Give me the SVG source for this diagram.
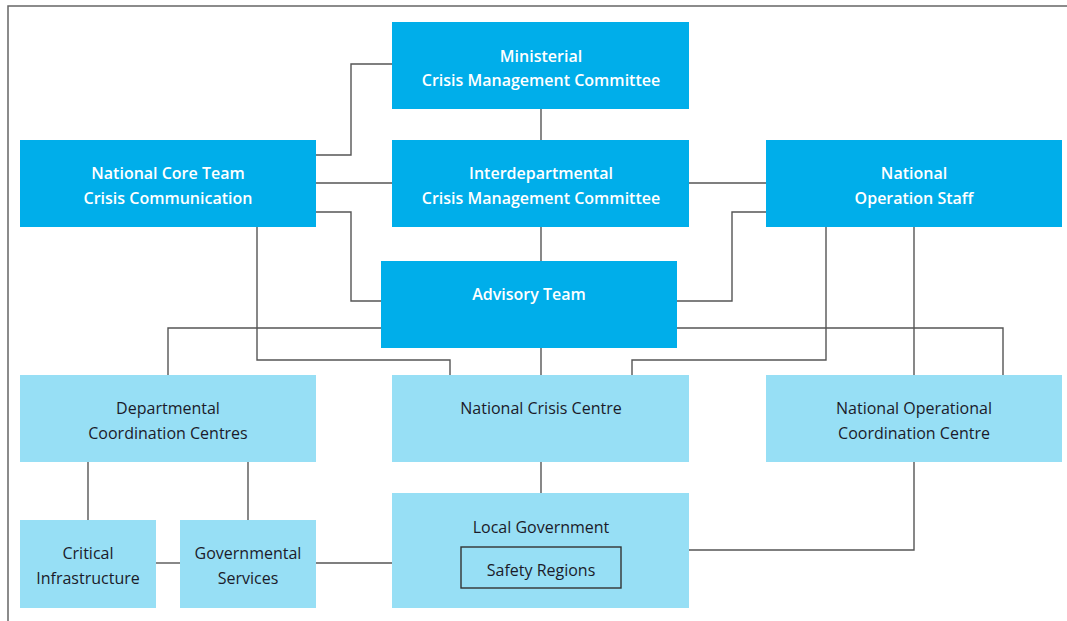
<svg xmlns="http://www.w3.org/2000/svg" width="1067" height="621" viewBox="0 0 1067 621">
<style>
.dark{fill:#00AEEA}
.light{fill:#97DFF5}
.tw{font-family:"Open Sans","Noto Sans",sans-serif;font-size:16px;font-weight:600;fill:#ffffff;text-anchor:middle}
.tb{font-family:"Open Sans","Noto Sans",sans-serif;font-size:16px;fill:#1b1b2a;text-anchor:middle}
.ln{fill:none;stroke:#555555;stroke-width:1.4}
</style>
<rect x="0" y="0" width="1067" height="621" fill="#ffffff"/>
<path d="M8,621 V6 H1067" fill="none" stroke="#666666" stroke-width="1.5"/>
<g id="connectors" class="ln">
<path d="M392,64 H351 V155 H316"/>
<path d="M316,183 H392"/>
<path d="M689,183 H766"/>
<path d="M316,212 H351 V301 H381"/>
<path d="M541,109 V140"/>
<path d="M541,227 V261"/>
<path d="M541,348 V375"/>
<path d="M541,462 V493"/>
<path d="M257,227 V360 H450 V375"/>
<path d="M381,328 H168 V375"/>
<path d="M677,301 H732 V212 H766"/>
<path d="M677,328 H1003 V375"/>
<path d="M826,227 V360 H632 V375"/>
<path d="M914,227 V375"/>
<path d="M914,462 V550 H689"/>
<path d="M88,462 V520"/>
<path d="M248,462 V520"/>
<path d="M156,563 H180"/>
<path d="M316,563 H392"/>
</g>
<g id="ministerial">
<rect class="dark" x="392" y="22" width="297" height="87"/>
<text class="tw" x="541" y="62">Ministerial</text>
<text class="tw" x="541" y="86">Crisis Management Committee</text>
</g>
<g id="core-team">
<rect class="dark" x="20" y="140" width="296" height="87"/>
<text class="tw" x="168" y="179">National Core Team</text>
<text class="tw" x="168" y="204">Crisis Communication</text>
</g>
<g id="interdepartmental">
<rect class="dark" x="392" y="140" width="297" height="87"/>
<text class="tw" x="541" y="179">Interdepartmental</text>
<text class="tw" x="541" y="204">Crisis Management Committee</text>
</g>
<g id="operation-staff">
<rect class="dark" x="766" y="140" width="296" height="87"/>
<text class="tw" x="914" y="179">National</text>
<text class="tw" x="914" y="204">Operation Staff</text>
</g>
<g id="advisory">
<rect class="dark" x="381" y="261" width="296" height="87"/>
<text class="tw" x="529" y="300">Advisory Team</text>
</g>
<g id="departmental">
<rect class="light" x="20" y="375" width="296" height="87"/>
<text class="tb" x="168" y="414">Departmental</text>
<text class="tb" x="168" y="439">Coordination Centres</text>
</g>
<g id="crisis-centre">
<rect class="light" x="392" y="375" width="297" height="87"/>
<text class="tb" x="541" y="414">National Crisis Centre</text>
</g>
<g id="operational-centre">
<rect class="light" x="766" y="375" width="296" height="87"/>
<text class="tb" x="914" y="414">National Operational</text>
<text class="tb" x="914" y="439">Coordination Centre</text>
</g>
<g id="critical">
<rect class="light" x="20" y="520" width="136" height="88"/>
<text class="tb" x="88" y="559">Critical</text>
<text class="tb" x="88" y="584">Infrastructure</text>
</g>
<g id="governmental">
<rect class="light" x="180" y="520" width="136" height="88"/>
<text class="tb" x="248" y="559">Governmental</text>
<text class="tb" x="248" y="584">Services</text>
</g>
<g id="local-government">
<rect class="light" x="392" y="493" width="297" height="115"/>
<text class="tb" x="541" y="533">Local Government</text>
<rect x="461" y="547" width="160" height="41" fill="none" stroke="#333333" stroke-width="1.4"/>
<text class="tb" x="541" y="576">Safety Regions</text>
</g>
</svg>
